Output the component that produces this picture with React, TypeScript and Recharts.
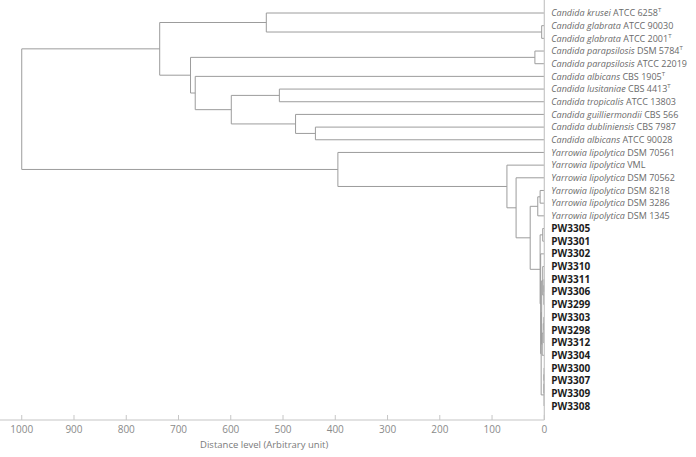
import { LineChart, Line, XAxis, YAxis } from 'recharts'

// leaves, top to bottom
const leafSpecies = [
  'Candida krusei', 'Candida glabrata', 'Candida glabrata', 'Candida parapsilosis', 'Candida parapsilosis',
  'Candida albicans', 'Candida lusitaniae', 'Candida tropicalis', 'Candida guilliermondii', 'Candida dubliniensis',
  'Candida albicans', 'Yarrowia lipolytica', 'Yarrowia lipolytica', 'Yarrowia lipolytica', 'Yarrowia lipolytica',
  'Yarrowia lipolytica', 'Yarrowia lipolytica',
  '', '', '', '', '', '', '', '', '', '', '', '', '', '', '',
]
const leafStrains = [
  'ATCC 6258', 'ATCC 90030', 'ATCC 2001', 'DSM 5784', 'ATCC 22019', 'CBS 1905', 'CBS 4413', 'ATCC 13803',
  'CBS 566', 'CBS 7987', 'ATCC 90028', 'DSM 70561', 'VML', 'DSM 70562', 'DSM 8218', 'DSM 3286', 'DSM 1345',
  'PW3305', 'PW3301', 'PW3302', 'PW3310', 'PW3311', 'PW3306', 'PW3299', 'PW3303', 'PW3298', 'PW3312',
  'PW3304', 'PW3300', 'PW3307', 'PW3309', 'PW3308',
]
const typeStrains = ['ATCC 6258', 'ATCC 2001', 'DSM 5784', 'CBS 1905', 'CBS 4413']

// [child a, child b, distance]; ids 0-31 are leaves, 32+ are merges in order
const merges: [number, number, number][] = [
  [1, 2, 5],        // 32
  [0, 32, 532],     // 33
  [3, 4, 18],       // 34
  [6, 7, 507],      // 35
  [9, 10, 438],     // 36
  [8, 36, 476],     // 37
  [35, 37, 599],    // 38
  [5, 38, 668],     // 39
  [34, 39, 677],    // 40
  [33, 40, 736],    // 41
  [14, 15, 8],      // 42
  [42, 16, 12.5],   // 43
  [17, 18, 3],      // 44
  [21, 22, 0],      // 45
  [45, 23, 1],      // 46
  [20, 46, 3],      // 47
  [24, 25, 1],      // 48
  [48, 26, 2],      // 49
  [49, 27, 4],      // 50
  [47, 50, 5],      // 51
  [28, 29, 0],      // 52
  [52, 30, 0],      // 53
  [53, 31, 0],      // 54
  [51, 54, 6],      // 55
  [19, 55, 7],      // 56
  [44, 56, 8],      // 57
  [43, 57, 27],     // 58
  [13, 58, 54],     // 59
  [12, 59, 71.5],   // 60
  [11, 60, 395],    // 61
  [41, 61, 1000],   // 62
]

const distanceTicks = [0, 100, 200, 300, 400, 500, 600, 700, 800, 900, 1000]

const FONT = '"Open Sans", sans-serif'
const LINE = '#9c9c9c'
const AXIS = '#c6c6c6'

// node positions: y = leaf row (mean of children), x = merge distance
const nodeY: number[] = leafStrains.map((_, i) => i)
const nodeH: number[] = leafStrains.map(() => 0)
merges.forEach(([a, b, h]) => {
  nodeY.push((nodeY[a] + nodeY[b]) / 2)
  nodeH.push(h)
})
const links = merges.map(([a, b, h]) => ({
  zero: h === 0,
  points: [
    { x: nodeH[a], y: nodeY[a] },
    { x: h, y: nodeY[a] },
    { x: h, y: nodeY[b] },
    { x: nodeH[b], y: nodeY[b] },
  ],
}))

function LeafTick({ x, y, payload }: any) {
  const i = payload.value
  const pw = !leafSpecies[i]
  return (
    <text
      x={x + 7}
      y={y}
      dy="0.36em"
      fontSize={pw ? 10 : 9}
      fontFamily={FONT}
      fill={pw ? '#1c1c1c' : '#6a6a6a'}
      fontWeight={pw ? 700 : 400}
    >
      {!pw && <tspan fontStyle="italic">{leafSpecies[i] + ' '}</tspan>}
      <tspan>{leafStrains[i]}</tspan>
      {typeStrains.includes(leafStrains[i]) && <tspan dy={-4} fontSize={6}>T</tspan>}
    </text>
  )
}

function DistanceTick({ x, y, payload }: any) {
  return (
    <g>
      <line x1={x} x2={x} y1={y - 5} y2={y} stroke={AXIS} />
      <text x={x} y={y + 9} dy="0.36em" textAnchor="middle" fontSize={10} fontFamily={FONT} fill="#8a8a8a">
        {payload.value}
      </text>
    </g>
  )
}

export default function App() {
  return (
    <div style={{ position: 'absolute', left: 0, top: 0 }}>
      <LineChart width={696} height={457} margin={{ top: 0, right: 0, bottom: 0, left: 0 }}>
        <XAxis
          type="number"
          dataKey="x"
          domain={[0, 1041.6]}
          allowDataOverflow
          reversed
          ticks={distanceTicks}
          interval={0}
          height={37}
          tickSize={0}
          tickMargin={0}
          tickLine={false}
          axisLine={{ stroke: AXIS, strokeWidth: 1.2 }}
          tick={<DistanceTick />}
          label={{
            value: 'Distance level (Arbitrary unit)',
            position: 'insideBottom',
            offset: 9,
            dx: -8,
            fontSize: 9.5,
            fontFamily: FONT,
            fill: '#7a7a7a',
          }}
        />
        <YAxis
          yAxisId={0}
          type="number"
          orientation="right"
          domain={[-1.0255, 32.105]}
          allowDataOverflow
          reversed
          ticks={leafStrains.map((_, i) => i)}
          interval={0}
          width={151.7}
          tickSize={0}
          tickMargin={0}
          tickLine={false}
          axisLine={{ stroke: AXIS, strokeWidth: 1.2 }}
          tick={<LeafTick />}
        />
        {links.map((l, k) => (
          <Line
            key={k}
            data={l.points}
            dataKey="y"
            type="linear"
            stroke={l.zero ? '#222' : LINE}
            strokeWidth={1}
            dot={false}
            activeDot={false}
            isAnimationActive={false}
          />
        ))}
      </LineChart>
    </div>
  )
}
